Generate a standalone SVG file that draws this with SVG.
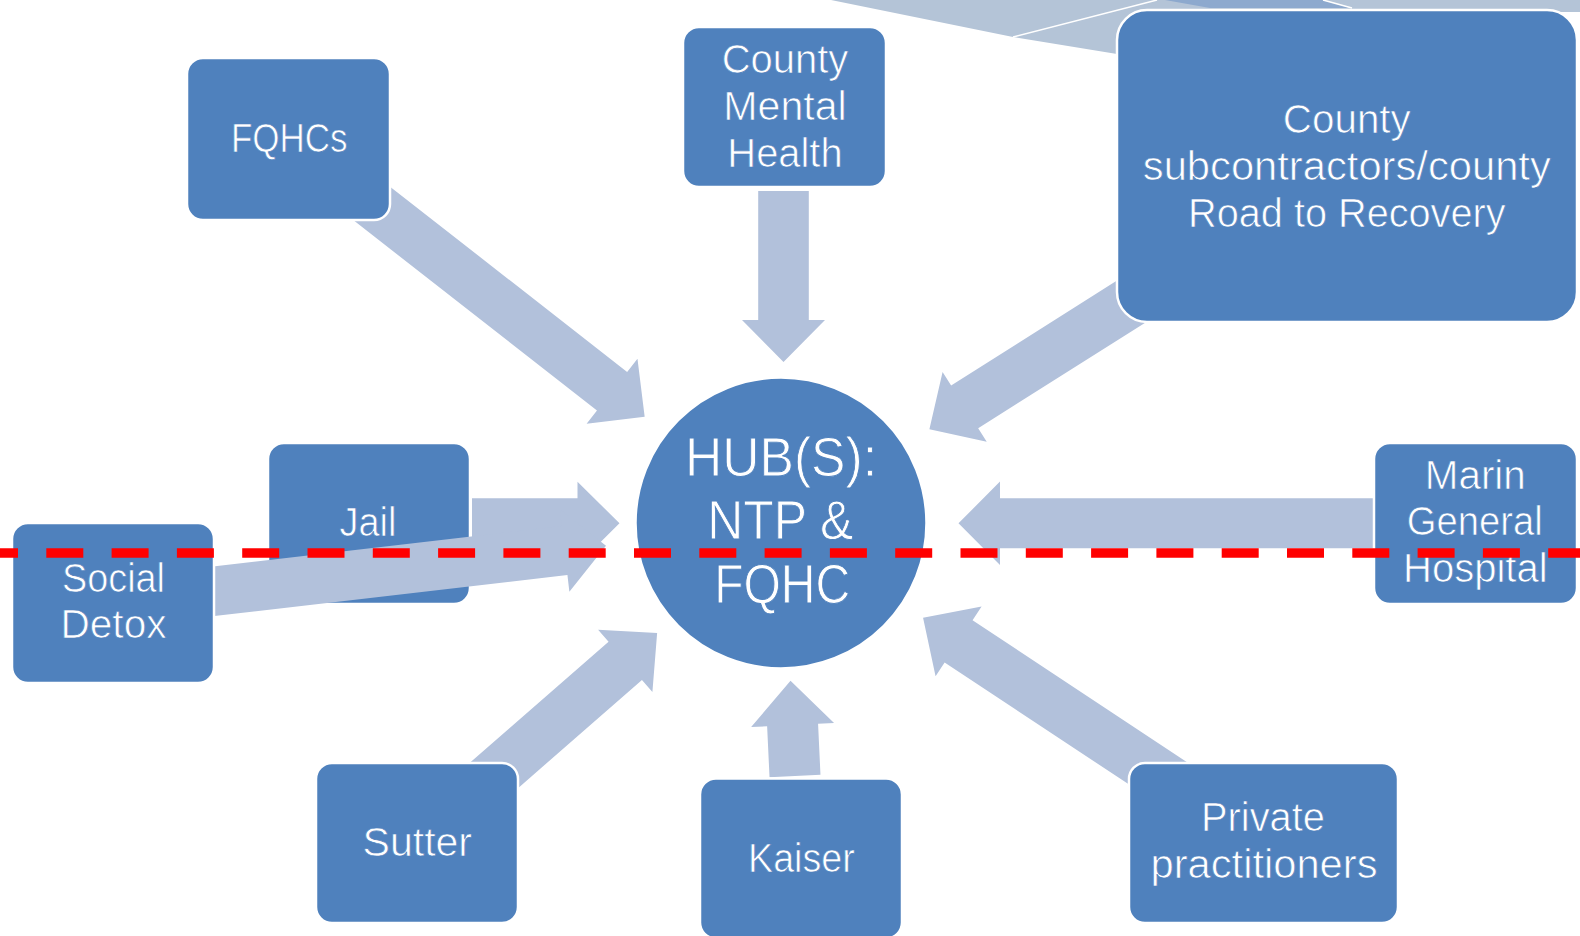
<svg xmlns="http://www.w3.org/2000/svg" width="1580" height="936" viewBox="0 0 1580 936">
<style>
.box{fill:#4F81BD;stroke:#FFFFFF;stroke-width:2.5}
.arr{fill:#B2C1DB}
.t{fill:#FFFFFF;stroke:#4F81BD;stroke-width:0.7;font-family:"Liberation Sans",Arial,sans-serif;font-size:40.5px;text-anchor:middle}
.big{font-size:55px;stroke-width:0.9}
</style>
<rect width="1580" height="936" fill="#FFFFFF"/>
<g id="decoration">
<polygon points="831,0 1580,0 1580,12 1150,12 1117,54 1013,37" fill="#B4C4D7"/>
<polygon points="1165,0 1323,0 1350,8 1210,8" fill="#8DA9CE"/>
<line x1="1013" y1="37" x2="1157" y2="0" stroke="#FFFFFF" stroke-width="1.5"/>
<line x1="1323" y1="0" x2="1352" y2="8" stroke="#FFFFFF" stroke-width="1.5"/>
</g>
<g id="node-jail">
<rect class="box" x="268" y="443" width="202" height="161" rx="16"/>
<text class="t" x="368" y="536" textLength="57" lengthAdjust="spacingAndGlyphs">Jail</text>
</g>
<g id="connectors">
<polygon class="arr" transform="translate(365.4,198.5) rotate(38)" points="0,-24.5 313,-24.5 313,-41.3 354.4,0 313,41.3 313,24.5 0,24.5"/>
<polygon class="arr" transform="translate(783.5,191) rotate(90)" points="0,-25.3 129,-25.3 129,-41.5 171,0 129,41.5 129,25.3 0,25.3"/>
<polygon class="arr" transform="translate(1139.2,296.5) rotate(147.7)" points="0,-25.3 206.5,-25.3 206.5,-41.3 248.2,0 206.5,41.3 206.5,25.3 0,25.3"/>
<polygon class="arr" transform="translate(1380,523.3) rotate(180)" points="0,-25 380,-25 380,-41.7 421.5,0 380,41.7 380,25 0,25"/>
<polygon class="arr" transform="translate(472,523.3)" points="0,-25 105.5,-25 105.5,-41.6 147.5,0 105.5,41.6 105.5,25 0,25"/>
<polygon class="arr" transform="translate(205,592.3) rotate(-6.63)" points="0,-24.7 362,-24.7 362,-41.5 403.7,0 362,41.5 362,24.7 0,24.7"/>
<polygon class="arr" transform="translate(480.8,786.9) rotate(-41.1)" points="0,-25.4 191.7,-25.4 191.7,-41.3 234,0 191.7,41.3 191.7,25.4 0,25.4"/>
<polygon class="arr" transform="translate(795,776) rotate(-92.7)" points="0,-25.5 51,-25.5 51,-41.5 95.3,0 51,41.5 51,25.5 0,25.5"/>
<polygon class="arr" transform="translate(1180.9,788.5) rotate(-146.5)" points="0,-25.3 266.6,-25.3 266.6,-41.7 309.2,0 266.6,41.7 266.6,25.3 0,25.3"/>
</g>
<g id="node-fqhcs">
<rect class="box" x="187" y="58" width="203" height="162" rx="16"/>
<text class="t" x="289.3" y="151.7" textLength="116.7" lengthAdjust="spacingAndGlyphs">FQHCs</text>
</g>
<g id="node-county-mental-health">
<rect class="box" x="683" y="27" width="203" height="160" rx="16"/>
<text class="t" x="785" y="73" textLength="126.7" lengthAdjust="spacingAndGlyphs">County</text>
<text class="t" x="785" y="120" textLength="123.3" lengthAdjust="spacingAndGlyphs">Mental</text>
<text class="t" x="785" y="166.7" textLength="115.3" lengthAdjust="spacingAndGlyphs">Health</text>
</g>
<g id="node-county-subcontractors">
<rect class="box" x="1117" y="10" width="460" height="312" rx="30"/>
<text class="t" x="1346.8" y="133" textLength="128" lengthAdjust="spacingAndGlyphs">County</text>
<text class="t" x="1346.8" y="180" textLength="408" lengthAdjust="spacingAndGlyphs">subcontractors/county</text>
<text class="t" x="1346.8" y="227" textLength="317.5" lengthAdjust="spacingAndGlyphs">Road to Recovery</text>
</g>
<g id="node-social-detox">
<rect class="box" x="12" y="523" width="202" height="160" rx="16"/>
<text class="t" x="113.5" y="591.7" textLength="103" lengthAdjust="spacingAndGlyphs">Social</text>
<text class="t" x="113.5" y="638.3" textLength="106" lengthAdjust="spacingAndGlyphs">Detox</text>
</g>
<g id="node-hub">
<circle class="box" cx="781" cy="523" r="145.5"/>
<text class="t big" x="781" y="476" textLength="192" lengthAdjust="spacingAndGlyphs">HUB(S):</text>
<text class="t big" x="780.3" y="538.5" textLength="146" lengthAdjust="spacingAndGlyphs">NTP &amp;</text>
<text class="t big" x="782.2" y="603.3" textLength="136" lengthAdjust="spacingAndGlyphs">FQHC</text>
</g>
<g id="node-marin-general-hospital">
<rect class="box" x="1374" y="443" width="203" height="161" rx="16"/>
<text class="t" x="1475.3" y="489" textLength="101" lengthAdjust="spacingAndGlyphs">Marin</text>
<text class="t" x="1474.7" y="535.3" textLength="136" lengthAdjust="spacingAndGlyphs">General</text>
<text class="t" x="1475.3" y="582" textLength="144.5" lengthAdjust="spacingAndGlyphs">Hospital</text>
</g>
<g id="node-sutter">
<rect class="box" x="316" y="763" width="202" height="160" rx="16"/>
<text class="t" x="417.3" y="856" textLength="109.5" lengthAdjust="spacingAndGlyphs">Sutter</text>
</g>
<g id="node-kaiser">
<rect class="box" x="700" y="778.5" width="202" height="160" rx="16"/>
<text class="t" x="801.4" y="871.7" textLength="106.7" lengthAdjust="spacingAndGlyphs">Kaiser</text>
</g>
<g id="node-private-practitioners">
<rect class="box" x="1129" y="763" width="269" height="160" rx="16"/>
<text class="t" x="1263" y="831" textLength="124" lengthAdjust="spacingAndGlyphs">Private</text>
<text class="t" x="1264" y="877.5" textLength="227" lengthAdjust="spacingAndGlyphs">practitioners</text>
</g>
<line id="red-dashed-line" x1="0" y1="553" x2="1580" y2="553" stroke="#FF0000" stroke-width="9.5" stroke-dasharray="37 28.3" stroke-dashoffset="19"/>
</svg>
